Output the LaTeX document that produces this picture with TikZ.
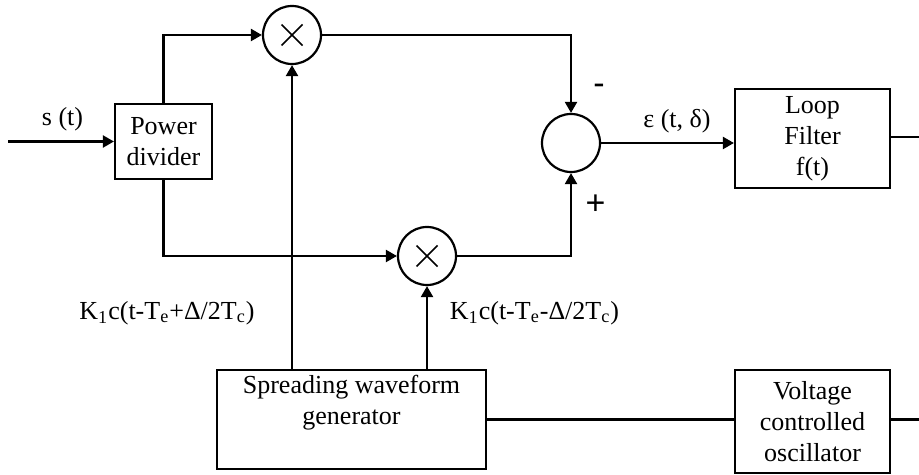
\documentclass[tikz,border=0pt]{standalone}
\usepackage{fontspec}
\setmainfont{Liberation Serif}
\newfontfamily\signfont{Liberation Sans}
\usetikzlibrary{arrows.meta}
\begin{document}
\begin{tikzpicture}[x=0.5pt,y=-0.5pt,
  line width=1.1pt,
  font=\fontsize{13}{15.5}\selectfont,
  arr/.style={-{Triangle[length=5.5pt,width=6pt]}},
  blk/.style={draw,rectangle,inner sep=0pt,align=center},
  circ/.style={draw,circle,minimum size=29pt,inner sep=0pt},
  lbl/.style={inner sep=0pt},
  sign/.style={inner sep=0pt,font=\signfont\fontsize{17}{19}\selectfont}]
\useasboundingbox (0,0) rectangle (919,475);
% blocks
\node[blk,minimum width=48.5pt,minimum height=37.5pt] (pd) at (163.5,141.5) {Power\\divider};
\node[circ] (m1) at (292,35) {};
\node[circ] (sum) at (571,143) {};
\node[circ] (m2) at (427,256) {};
\node[blk,minimum width=77.5pt,minimum height=49.5pt] (lf) at (812.5,138.5) {Loop\\Filter\\f(t)};
\node[blk,minimum width=134.5pt,minimum height=49.5pt] (swg) at (351.5,419.5) {Spreading waveform\\generator\\\strut};
\node[blk,minimum width=77.5pt,minimum height=51.5pt] (vco) at (812.5,421.5) {Voltage\\controlled\\oscillator};
% crosses in multipliers
\foreach \m in {m1,m2}{
  \draw[line width=0.8pt] (\m.center) ++(-10.5,-10.5) -- ++(21,21);
  \draw[line width=0.8pt] (\m.center) ++(-10.5,10.5) -- ++(21,-21);
}
% free ends
\coordinate (in) at (8,141.5);
\coordinate (lfout) at (919,137);
\coordinate (vcoout) at (919,419.5);
% connectors
\draw[arr] (in) -- (pd.west);
\draw[arr] (pd.north) |- (m1.west);
\draw[arr] (pd.south) |- (m2.west);
\draw[arr] (m1.east) -| (sum.north);
\draw[arr] (m2.east) -| (sum.south);
\draw[arr] (sum.east) -- (sum.east -| lf.west);
\draw (lf.east |- lfout) -- (lfout);
\draw[arr] (swg.north -| m1) -- (m1.south);
\draw[arr] (swg.north -| m2) -- (m2.south);
\draw (swg.east) -- (swg.east -| vco.west);
\draw (vco.east |- vcoout) -- (vcoout);
% labels
\node[lbl] (ls) at (62.5,119) {s (t)};
\node[lbl] (le) at (677,121) {ε (t, δ)};
\node[sign] (lminus) at (599,89) {-};
\node[sign] (lplus) at (595.5,205) {+};
\node[lbl] (lk1) at (167,313) {K\textsubscript{1}c(t-T\textsubscript{e}+Δ/2T\textsubscript{c})};
\node[lbl] (lk2) at (534.5,313) {K\textsubscript{1}c(t-T\textsubscript{e}-Δ/2T\textsubscript{c})};
\end{tikzpicture}
\end{document}
